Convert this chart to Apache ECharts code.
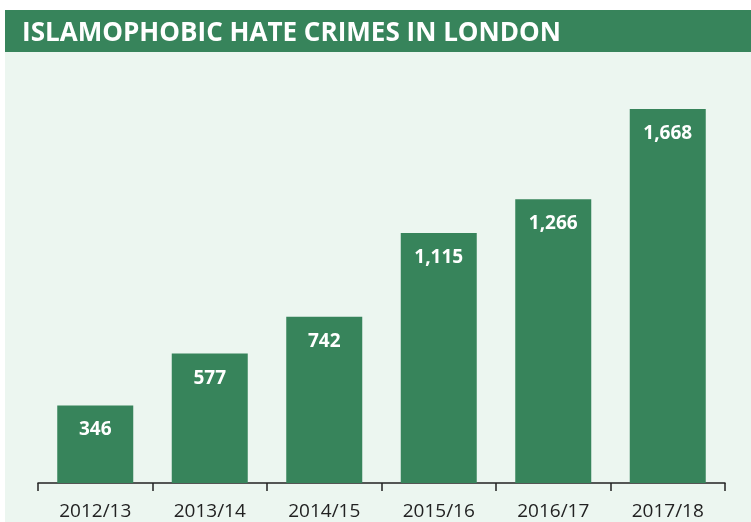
<!DOCTYPE html>
<html>
<head>
<meta charset="utf-8">
<script src="https://cdn.jsdelivr.net/npm/echarts@6/dist/echarts.min.js"></script>
<style>
  html, body { margin: 0; padding: 0; background: #fff; }
  #chart { width: 751px; height: 522px; }
</style>
</head>
<body>
<div id="chart"></div>
<script>
const years = ['2012/13', '2013/14', '2014/15', '2015/16', '2016/17', '2017/18'];
const crimes = [346, 577, 742, 1115, 1266, 1668];
const titleText = 'ISLAMOPHOBIC HATE CRIMES IN LONDON';

const green = '#37845b';
const chart = echarts.init(document.getElementById('chart'));

chart.setOption({
  animation: false,
  graphic: [
    { type: 'rect', z: -10, silent: true, shape: { x: 5, y: 52, width: 746, height: 470 }, style: { fill: '#ecf6f0' } },
    { type: 'rect', z: -10, silent: true, shape: { x: 5, y: 10, width: 746, height: 42 }, style: { fill: green } },
    {
      type: 'text', left: 22, top: 20, scaleX: 0.965,
      style: { text: titleText, fill: '#fff', font: 'bold 27px "Open Sans"' }
    }
  ],
  grid: { left: 38, right: 26, top: 109, bottom: 39 },
  xAxis: {
    type: 'category',
    data: years,
    axisLine: { show: true, lineStyle: { color: '#222', width: 1.5 } },
    axisTick: { show: true, alignWithLabel: false, length: 8, lineStyle: { color: '#222', width: 1.5 } },
    axisLabel: { color: '#222', fontSize: 19, fontFamily: 'Open Sans', margin: 19 }
  },
  yAxis: {
    type: 'value', min: 0, max: 1668,
    show: false, splitLine: { show: false }
  },
  series: [{
    type: 'bar',
    data: crimes,
    barWidth: 76,
    itemStyle: { color: green },
    label: {
      show: true, position: 'insideTop', distance: 15,
      color: '#fff', fontSize: 19, fontWeight: 'bold', fontFamily: 'Open Sans',
      formatter: p => p.value.toLocaleString('en-US')
    }
  }]
});
</script>
</body>
</html>
